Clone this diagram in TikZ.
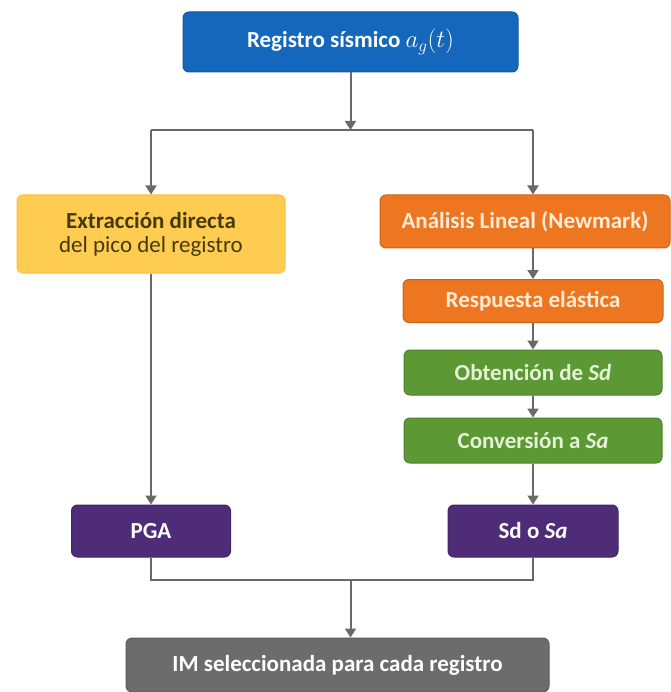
\documentclass[tikz,border=0pt]{standalone}
\usepackage{fontspec}
\setmainfont{Carlito}
\usetikzlibrary{arrows.meta}

\definecolor{azulreg}{RGB}{21,103,188}
\definecolor{amarillo}{RGB}{255,204,82}
\definecolor{naranja}{RGB}{238,118,32}
\definecolor{verde}{RGB}{92,152,52}
\definecolor{morado}{RGB}{78,44,120}
\definecolor{gris}{RGB}{108,108,108}
\definecolor{linea}{RGB}{105,105,105}

\begin{document}
\begin{tikzpicture}[x=1pt,y=-1pt,
  caja/.style={rounded corners=6pt, inner sep=0pt, align=center, line width=1pt,
    font=\bfseries\fontsize{23}{24}\selectfont},
  flecha/.style={-{Triangle[length=9pt,width=11pt]}, line width=2pt, draw=linea},
  tramo/.style={line width=2pt, draw=linea}]

\useasboundingbox (0,0) rectangle (670,692);

\node at (350.5,42) [caja, fill=azulreg, draw=azulreg!85!black, text=white,
  minimum width=335pt, minimum height=60pt] (reg) {Registro sísmico $a_g(t)$};

\coordinate (bifur) at (350.5,130);
\coordinate (izq) at (151,130);
\coordinate (der) at (533,130);

\node at (151,234) [caja, fill=amarillo, draw=amarillo!80!orange, text={rgb,255:red,70;green,58;blue,10},
  minimum width=268pt, minimum height=78pt] (ext) {Extracción directa\\{\mdseries del pico del registro}};

\node at (525,221.5) [caja, fill=naranja, draw=naranja!85!black, text={rgb,255:red,255;green,236;blue,215},
  minimum width=290pt, minimum height=53pt] (ana) {Análisis Lineal (Newmark)};
\node at (533,301) [caja, fill=naranja, draw=naranja!85!black, text={rgb,255:red,255;green,236;blue,215},
  minimum width=260pt, minimum height=43pt] (res) {Respuesta elástica};
\node at (533,372.5) [caja, fill=verde, draw=verde!85!black, text={rgb,255:red,228;green,242;blue,214},
  minimum width=258pt, minimum height=45pt] (obt) {Obtención de \textit{Sd}};
\node at (533,440.5) [caja, fill=verde, draw=verde!85!black, text={rgb,255:red,228;green,242;blue,214},
  minimum width=258pt, minimum height=45pt] (conv) {Conversión a \textit{Sa}};

\node at (151,531) [caja, fill=morado, draw=morado!85!black, text=white,
  minimum width=159pt, minimum height=52pt] (pga) {PGA};
\node at (533,531) [caja, fill=morado, draw=morado!85!black, text=white,
  minimum width=170pt, minimum height=52pt] (sd) {Sd o \textit{Sa}};

\coordinate (junta) at (350.5,580);

\node at (337.5,665) [caja, fill=gris, draw=gris!85!black, text=white,
  minimum width=423pt, minimum height=54pt] (im) {IM seleccionada para cada registro};

\draw[flecha] (reg) -- (bifur);
\draw[tramo] (izq) -- (der);
\draw[flecha] (izq) -- (ext);
\draw[flecha] (der) -- (der |- ana.north);
\draw[flecha] (res |- ana.south) -- (res);
\draw[flecha] (res) -- (obt);
\draw[flecha] (obt) -- (conv);
\draw[flecha] (conv) -- (sd);
\draw[flecha] (ext) -- (pga);

\draw[tramo] (pga.south) |- (junta) -| (sd.south);
\draw[flecha] (junta) -- (junta |- im.north);

\end{tikzpicture}
\end{document}
